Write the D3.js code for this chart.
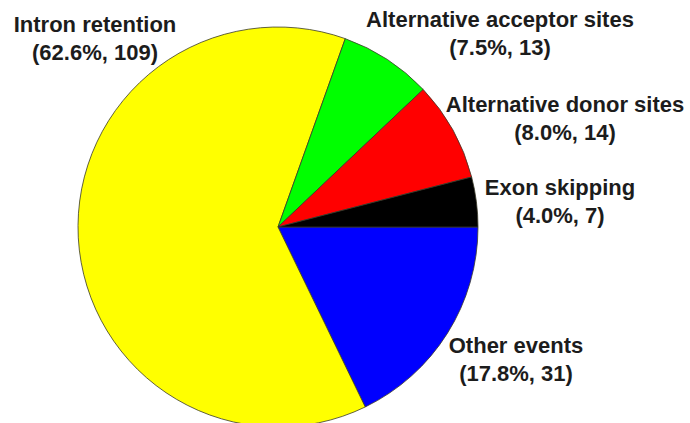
<!DOCTYPE html>
<html>
<head>
<meta charset="utf-8">
<script src="https://cdn.jsdelivr.net/npm/d3@7"></script>
<style>
  html, body { margin: 0; padding: 0; background: #fff; }
  svg { display: block; }
  text { font-family: "Liberation Sans", Arial, sans-serif; font-weight: bold; fill: #1c1c1c; }
</style>
</head>
<body>
<svg id="chart" width="690" height="423"></svg>
<script>
// Alternative splicing event categories, in clockwise order from 3 o'clock
const categories = ["Other events", "Intron retention", "Alternative acceptor sites", "Alternative donor sites", "Exon skipping"];
const counts = [31, 109, 13, 14, 7];
const percents = ["17.8%", "62.6%", "7.5%", "8.0%", "4.0%"];
const colors = ["#0000ff", "#ffff00", "#00ff00", "#ff0000", "#000000"];

// Label anchor points (centre x, first-line baseline y)
const labelAnchors = [[516, 353], [95, 32], [500, 27], [565, 112], [560, 195]];

const width = 690, height = 423;
const cx = 278, cy = 227, radius = 200;
const lineGap = 28;

const svg = d3.select("#chart");

const pie = d3.pie()
  .sort(null)
  .value(d => d)
  .startAngle(Math.PI / 2)
  .endAngle(Math.PI / 2 + 2 * Math.PI);

const arc = d3.arc().innerRadius(0).outerRadius(radius);

const color = d3.scaleOrdinal().domain(categories).range(colors);

const g = svg.append("g").attr("transform", `translate(${cx},${cy})`);

g.selectAll("path")
  .data(pie(counts))
  .join("path")
  .attr("d", arc)
  .attr("fill", (d, i) => color(categories[i]))
  .attr("stroke", "#3a3a2a")
  .attr("stroke-width", 0.8)
  .attr("stroke-linejoin", "round");

// Two-line labels: name, then (percent, count)
const labels = svg.append("g")
  .selectAll("text")
  .data(categories)
  .join("text")
  .attr("text-anchor", "middle")
  .attr("font-size", 22)
  .attr("transform", (d, i) => `translate(${labelAnchors[i][0]},${labelAnchors[i][1]})`);

labels.append("tspan")
  .attr("x", 0)
  .attr("y", 0)
  .text(d => d);

labels.append("tspan")
  .attr("x", 0)
  .attr("y", lineGap)
  .text((d, i) => `(${percents[i]}, ${counts[i]})`);
</script>
</body>
</html>
